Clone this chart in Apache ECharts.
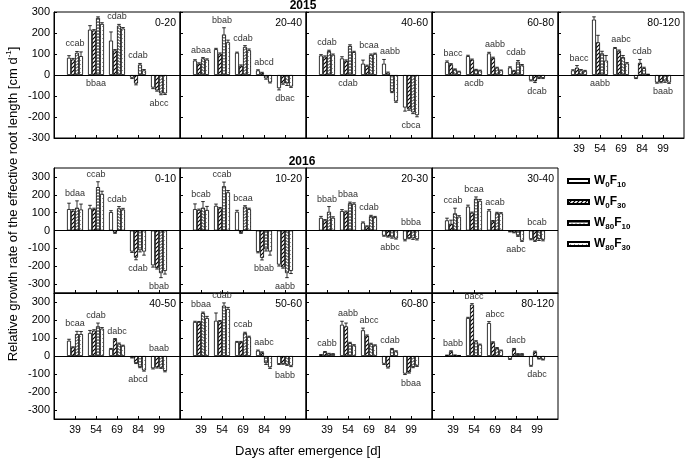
<!DOCTYPE html>
<html>
<head>
<meta charset="utf-8">
<script src="https://cdn.jsdelivr.net/npm/echarts@6/dist/echarts.min.js"></script>
<style>
html,body{margin:0;padding:0;background:#fff}
#chart{width:685px;height:459px}
</style>
</head>
<body>
<div id="chart"></div>
<script>
var FONT = 'Liberation Sans, Arial, sans-serif';

// x categories (days after emergence) and treatments
var days = [39, 54, 69, 84, 99];
var treatments = ['W0F10', 'W0F30', 'W80F10', 'W80F30'];
var yTicks = [-300, -200, -100, 0, 100, 200, 300];

// 2015 — each row is one treatment (W0F10, W0F30, W80F10, W80F30), one value per day
var v15_0_20 = [[82, 216, 164, -13, -60], [74, 212, 117, -41, -73], [106, 272, 235, 50, -88], [90, 243, 221, 22, -88]];
var e15_0_20 = [[10, 19, 41, 4, 5], [5, 4, 4, 6, 4], [6, 5, 6, 5, 6], [20, 6, 5, 4, 5]];
var l15_0_20 = ['ccab', 'bbaa', 'cdab', 'cdab', 'abcc'];
var s15_0_20 = 'uduud';

var v15_20_40 = [[69, 123, 106, 22, -63], [54, 101, 44, 11, -40], [79, 193, 134, -16, -40], [73, 156, 118, -35, -55]];
var e15_20_40 = [[4, 4, 3, 3, 8], [4, 4, 4, 2, 4], [4, 32, 6, 4, 10], [4, 10, 6, 3, 4]];
var l15_20_40 = ['abaa', 'bbab', 'cdab', 'abcd', 'dbac'];
var s15_20_40 = 'uuuud';

var v15_40_60 = [[93, 79, 54, 54, -155], [87, 68, 43, 11, -163], [114, 139, 96, -80, -178], [96, 109, 101, -126, -191]];
var e15_40_60 = [[4, 8, 17, 20, 17], [4, 4, 4, 3, 5], [4, 5, 4, 4, 6], [4, 4, 3, 4, 8]];
var l15_40_60 = ['cdab', 'cdab', 'bcaa', 'aabb', 'cbca'];
var s15_40_60 = 'uduud';

var v15_60_80 = [[62, 90, 103, 36, -25], [51, 73, 82, 19, -30], [27, 25, 35, 63, -14], [16, 21, 22, 46, -14]];
var e15_60_80 = [[5, 4, 5, 3, 3], [3, 3, 3, 3, 6], [2, 2, 2, 6, 3], [2, 2, 2, 4, 3]];
var l15_60_80 = ['bacc', 'acdb', 'aabb', 'cdab', 'dcab'];
var s15_60_80 = 'uduud';

var v15_80_120 = [[22, 264, 128, -15, -36], [35, 156, 115, 58, -33], [22, 103, 85, 33, -30], [19, 69, 55, 2, -36]];
var e15_80_120 = [[3, 13, 3, 2, 3], [10, 33, 4, 16, 4], [4, 10, 8, 4, 5], [3, 24, 4, 2, 4]];
var l15_80_120 = ['bacc', 'aabb', 'aabc', 'cdab', 'baab'];
var s15_80_120 = 'uduud';

// 2016
var v16_0_10 = [[120, 124, 103, -118, -195], [111, 120, -13, -152, -210], [128, 243, 124, -110, -239], [118, 205, 118, -118, -226]];
var e16_0_10 = [[33, 17, 8, 5, 10], [6, 5, 3, 12, 6], [38, 30, 10, 10, 25], [30, 15, 6, 20, 18]];
var l16_0_10 = ['bdaa', 'ccab', 'cdab', 'cdab', 'bbab'];
var s16_0_10 = 'uuudd';

var v16_10_20 = [[120, 138, 105, -120, -191], [115, 124, -13, -153, -206], [128, 248, 134, -105, -239], [115, 214, 120, -118, -226]];
var e16_10_20 = [[29, 10, 8, 5, 8], [5, 5, 3, 12, 5], [34, 23, 5, 10, 25], [20, 10, 5, 20, 15]];
var l16_10_20 = ['bcab', 'ccab', 'bcaa', 'bbab', 'aabb'];
var s16_10_20 = 'uuudd';

var v16_20_30 = [[71, 109, 44, -29, -52], [57, 105, 23, -34, -42], [105, 153, 80, -38, -44], [71, 149, 75, -44, -48]];
var e16_20_30 = [[8, 8, 4, 3, 6], [4, 4, 3, 3, 4], [29, 6, 5, 5, 6], [6, 6, 4, 4, 5]];
var l16_20_30 = ['bbab', 'bbaa', 'cdab', 'abbc', 'bbba'];
var s16_20_30 = 'uuudu';

var v16_30_40 = [[57, 134, 111, -6, -48], [38, 99, 52, -11, -57], [96, 178, 98, -29, -48], [77, 166, 96, -57, -52]];
var e16_30_40 = [[12, 8, 6, 2, 4], [20, 4, 4, 2, 4], [29, 10, 4, 4, 8], [6, 8, 4, 4, 6]];
var l16_30_40 = ['ccab', 'bcaa', 'acab', 'aabc', 'bcab'];
var s16_30_40 = 'uuudu';

var v16_40_50 = [[85, 128, 39, -9, -68], [48, 141, 94, -39, -63], [122, 165, 68, -61, -65], [122, 152, 57, -80, -83]];
var e16_40_50 = [[8, 14, 3, 2, 4], [3, 5, 3, 3, 4], [15, 18, 4, 4, 4], [14, 6, 3, 4, 5]];
var l16_40_50 = ['bcaa', 'cdab', 'dabc', 'abcd', 'baab'];
var s16_40_50 = 'uuudu';

var v16_50_60 = [[189, 196, 78, 30, -44], [189, 193, 78, 20, -43], [239, 280, 128, -39, -48], [211, 261, 106, -63, -54]];
var e16_50_60 = [[4, 43, 3, 3, 3], [3, 4, 3, 3, 3], [5, 15, 4, 8, 4], [9, 9, 4, 6, 5]];
var l16_50_60 = ['bbaa', 'cdab', 'ccab', 'aabc', 'babb'];
var s16_50_60 = 'uuuud';

var v16_60_80 = [[6, 174, 143, -43, -98], [22, 165, 113, -63, -91], [13, 72, 67, 39, -61], [11, 59, 59, 26, -54]];
var e16_60_80 = [[2, 19, 12, 4, 5], [3, 18, 4, 4, 4], [2, 4, 4, 3, 4], [2, 4, 3, 3, 4]];
var l16_60_80 = ['cabb', 'aabb', 'abcc', 'cdab', 'bbaa'];
var s16_60_80 = 'uuuud';

var v16_80_120 = [[4, 211, 183, -17, -54], [26, 285, 76, 39, 24], [4, 81, 44, 11, -15], [2, 63, 31, 11, -20]];
var e16_80_120 = [[1, 4, 8, 2, 3], [3, 6, 3, 3, 3], [2, 4, 3, 2, 2], [1, 3, 2, 2, 2]];
var l16_80_120 = ['babb', 'bacc', 'abcc', 'dacb', 'dabc'];
var s16_80_120 = 'uuuud';

// panel: [depth label, row, col, values, errors, letters, letter side]
var panels = [
  ['0-20', 0, 0, v15_0_20, e15_0_20, l15_0_20, s15_0_20],
  ['20-40', 0, 1, v15_20_40, e15_20_40, l15_20_40, s15_20_40],
  ['40-60', 0, 2, v15_40_60, e15_40_60, l15_40_60, s15_40_60],
  ['60-80', 0, 3, v15_60_80, e15_60_80, l15_60_80, s15_60_80],
  ['80-120', 0, 4, v15_80_120, e15_80_120, l15_80_120, s15_80_120],
  ['0-10', 1, 0, v16_0_10, e16_0_10, l16_0_10, s16_0_10],
  ['10-20', 1, 1, v16_10_20, e16_10_20, l16_10_20, s16_10_20],
  ['20-30', 1, 2, v16_20_30, e16_20_30, l16_20_30, s16_20_30],
  ['30-40', 1, 3, v16_30_40, e16_30_40, l16_30_40, s16_30_40],
  ['40-50', 2, 0, v16_40_50, e16_40_50, l16_40_50, s16_40_50],
  ['50-60', 2, 1, v16_50_60, e16_50_60, l16_50_60, s16_50_60],
  ['60-80', 2, 2, v16_60_80, e16_60_80, l16_60_80, s16_60_80],
  ['80-120', 2, 3, v16_80_120, e16_80_120, l16_80_120, s16_80_120]
];

// layout
var rowTop = [12, 168, 293];
var rowH = [126, 125, 126];
var rowRange = [300, 350, 350];
var colLeft = 54, colW = 126;
var barW = 4;

function pat(w, h, draw) {
  var c = document.createElement('canvas');
  c.width = w; c.height = h;
  var g = c.getContext('2d');
  g.fillStyle = '#fff';
  g.fillRect(0, 0, w, h);
  g.strokeStyle = '#000';
  draw(g);
  return { image: c, repeat: 'repeat' };
}
var fills = [
  '#fff',
  pat(4, 4, function (g) {
    g.lineWidth = 1.2;
    g.beginPath();
    g.moveTo(0, 4); g.lineTo(4, 0);
    g.moveTo(-1, 1); g.lineTo(1, -1);
    g.moveTo(3, 5); g.lineTo(5, 3);
    g.stroke();
  }),
  pat(4, 3, function (g) {
    g.lineWidth = 1;
    g.beginPath();
    g.moveTo(0, 2.5); g.lineTo(2, 0.5); g.lineTo(4, 2.5);
    g.stroke();
  }),
  pat(4, 4, function (g) {
    g.fillStyle = '#999';
    g.fillRect(0, 0, 1, 1);
    g.fillRect(2, 2, 1, 1);
  })
];

var grids = [], xAxes = [], yAxes = [], series = [], graphics = [];

panels.forEach(function (p, k) {
  var name = p[0], row = p[1], col = p[2], vals = p[3], errs = p[4], letters = p[5], side = p[6];
  var left = colLeft + col * colW, top = rowTop[row];
  var showX = row === 2 || (row === 0 && col === 4);

  grids.push({ left: left, top: top, width: colW, height: rowH[row], show: true, borderColor: '#000', borderWidth: 1 });

  xAxes.push({
    type: 'value', gridIndex: k, min: 24, max: 114,
    splitLine: { show: false },
    axisLine: { onZero: false, lineStyle: { color: '#000' } },
    axisTick: { inside: true, length: 3, customValues: days, lineStyle: { color: '#000' } },
    axisLabel: { show: showX, customValues: days, fontSize: 10.5, color: '#000', fontFamily: FONT, margin: 6 }
  });
  yAxes.push({
    type: 'value', gridIndex: k, min: -rowRange[row], max: rowRange[row],
    splitLine: { show: false },
    axisLine: { show: true, lineStyle: { color: '#000' } },
    axisTick: { inside: true, length: 3, customValues: yTicks, lineStyle: { color: '#000' } },
    axisLabel: { show: col === 0, customValues: yTicks, fontSize: 11, color: '#000', fontFamily: FONT, margin: 4 }
  });

  treatments.forEach(function (t, ti) {
    var s = {
      type: 'bar', name: t, xAxisIndex: k, yAxisIndex: k,
      barWidth: barW, barGap: '0%', silent: true,
      itemStyle: { color: fills[ti], borderColor: '#000', borderWidth: 0.8 },
      data: days.map(function (d, i) { return [d, vals[ti][i]]; })
    };
    if (ti === 0) {
      s.markLine = {
        silent: true, symbol: 'none', label: { show: false },
        lineStyle: { color: '#000', width: 1, type: 'solid' },
        data: [{ yAxis: 0 }]
      };
    }
    series.push(s);
  });

  // error bars
  var eData = [];
  treatments.forEach(function (t, ti) {
    days.forEach(function (d, i) { eData.push([d, vals[ti][i], errs[ti][i], ti]); });
  });
  series.push({
    type: 'custom', xAxisIndex: k, yAxisIndex: k, silent: true, z: 5,
    data: eData,
    renderItem: function (params, api) {
      var x = api.value(0), v = api.value(1), e = api.value(2), ti = api.value(3);
      var p0 = api.coord([x, v]);
      var p1 = api.coord([x, v >= 0 ? v + e : v - e]);
      var cx = p0[0] + (ti - 1.5) * barW;
      return {
        type: 'group', children: [
          { type: 'line', shape: { x1: cx, y1: p0[1], x2: cx, y2: p1[1] }, style: { stroke: '#000', lineWidth: 0.8 } },
          { type: 'line', shape: { x1: cx - 1.8, y1: p1[1], x2: cx + 1.8, y2: p1[1] }, style: { stroke: '#000', lineWidth: 0.8 } }
        ]
      };
    }
  });

  // significance letters
  var lData = days.map(function (d, i) {
    var up = side[i] === 'u';
    var a = 0;
    for (var ti = 0; ti < 4; ti++) {
      var v = vals[ti][i], e = errs[ti][i];
      if (up && v > 0) a = Math.max(a, v + e);
      if (!up && v < 0) a = Math.min(a, v - e);
    }
    return [d, a, up ? 1 : -1];
  });
  series.push({
    type: 'custom', xAxisIndex: k, yAxisIndex: k, silent: true, z: 6,
    data: lData,
    renderItem: function (params, api) {
      var pt = api.coord([api.value(0), api.value(1)]);
      var up = api.value(2) > 0;
      return {
        type: 'text', x: pt[0], y: up ? pt[1] - 3 : pt[1] + 4,
        style: {
          text: letters[params.dataIndex], fill: '#333', fontSize: 9, fontFamily: FONT,
          align: 'center', verticalAlign: up ? 'bottom' : 'top',
          textAlign: 'center', textVerticalAlign: up ? 'bottom' : 'top'
        }
      };
    }
  });

  graphics.push({
    type: 'text', x: left + colW - 4, y: top + 11,
    style: { text: name, fill: '#000', fontSize: 10.5, fontFamily: FONT, align: 'right', verticalAlign: 'middle', textAlign: 'right', textVerticalAlign: 'middle' }
  });
});

// year headers and axis titles
graphics.push({
  type: 'text', x: 303, y: 6,
  style: { text: '2015', fill: '#000', fontSize: 12, fontWeight: 'bold', fontFamily: FONT, align: 'center', verticalAlign: 'middle', textAlign: 'center', textVerticalAlign: 'middle' }
});
graphics.push({
  type: 'text', x: 302, y: 162,
  style: { text: '2016', fill: '#000', fontSize: 12, fontWeight: 'bold', fontFamily: FONT, align: 'center', verticalAlign: 'middle', textAlign: 'center', textVerticalAlign: 'middle' }
});
graphics.push({
  type: 'text', x: 308, y: 451,
  style: { text: 'Days after emergence [d]', fill: '#000', fontSize: 13, fontFamily: FONT, align: 'center', verticalAlign: 'middle', textAlign: 'center', textVerticalAlign: 'middle' }
});
graphics.push({
  type: 'text', x: 13, y: 204, rotation: Math.PI / 2,
  style: {
    text: '{n|Relative growth rate of the effective root length [cm d}{p|-1}{n|]}',
    fill: '#000', fontFamily: FONT, align: 'center', verticalAlign: 'middle', textAlign: 'center', textVerticalAlign: 'middle',
    rich: {
      n: { fontSize: 13, lineHeight: 16, fontFamily: FONT, fill: '#000' },
      p: { fontSize: 8, lineHeight: 16, verticalAlign: 'top', fontFamily: FONT, fill: '#000' }
    }
  }
});

var chart = echarts.init(document.getElementById('chart'), null, { renderer: 'canvas' });
chart.setOption({
  animation: false,
  backgroundColor: '#fff',
  grid: grids,
  xAxis: xAxes,
  yAxis: yAxes,
  legend: {
    data: treatments, orient: 'vertical', left: 562, top: 170,
    icon: 'rect', itemWidth: 21, itemHeight: 4, itemGap: 7,
    selectedMode: false,
    formatter: function (n) {
      var m = n.match(/W(\d+)F(\d+)/);
      return '{b|W}{s|' + m[1] + '}{b|F}{s|' + m[2] + '}';
    },
    textStyle: {
      rich: {
        b: { fontSize: 12, fontWeight: 'bold', lineHeight: 16, color: '#000', fontFamily: FONT },
        s: { fontSize: 8, fontWeight: 'bold', lineHeight: 16, verticalAlign: 'bottom', color: '#000', fontFamily: FONT }
      }
    }
  },
  graphic: graphics,
  series: series
});
</script>
</body>
</html>
